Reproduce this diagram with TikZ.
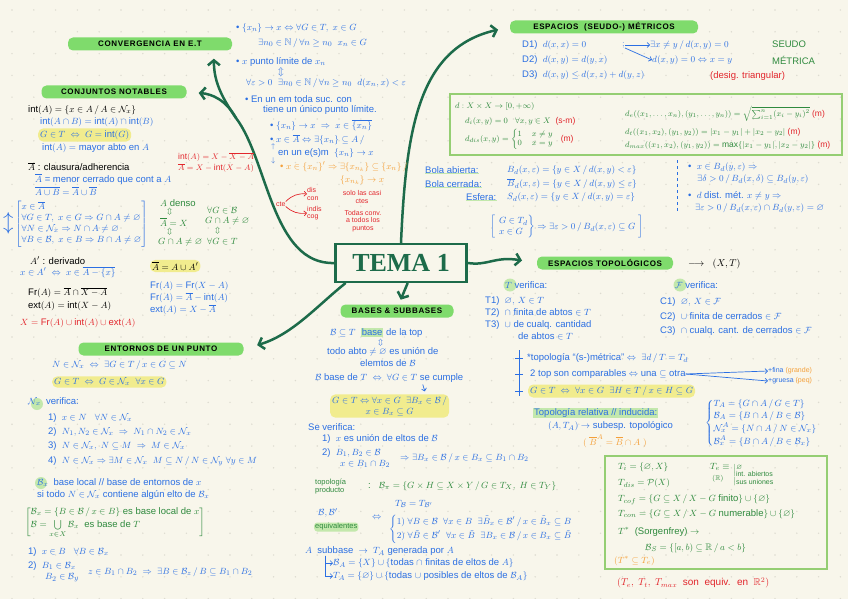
\documentclass[tikz,border=0pt]{standalone}
\usepackage{amsmath}
\usepackage{amssymb}
\usepackage{tikz}
\usepackage{fontspec}
\setmainfont{Liberation Sans}
\newfontfamily\temafont{Liberation Serif}
\usetikzlibrary{arrows.meta}
\definecolor{bgc}{HTML}{F8F6EB}
\definecolor{dotc}{HTML}{DDDBD0}
\definecolor{dkgreen}{HTML}{1D6B4A}
\definecolor{tgreen}{HTML}{7FDB6C}
\definecolor{lgreen}{HTML}{C3E8AC}
\definecolor{boxg}{HTML}{95CE73}
\definecolor{bblue}{HTML}{2B6FE3}
\definecolor{gtext}{HTML}{2F8A3E}
\definecolor{rred}{HTML}{E2262C}
\definecolor{orng}{HTML}{F4A03A}
\definecolor{hlyel}{HTML}{F1EC8E}
\newcommand{\hlg}[1]{{\setlength{\fboxsep}{1pt}\colorbox{lgreen}{#1}}}
\newcommand{\cB}{\mathcal{B}}
\newcommand{\cN}{\mathcal{N}}
\newcommand{\vac}{\varnothing}
\newcommand{\intr}{\mathrm{int}}
\newcommand{\Frt}{\mathrm{Fr}}
\newcommand{\extr}{\mathrm{ext}}

\begin{document}
\begin{tikzpicture}[x=1pt, y=-1pt,
  txt/.style={anchor=west, inner sep=0pt, font=\fontsize{9.5}{11}\selectfont},
  bt/.style={txt, text=bblue},
  gt/.style={txt, text=gtext},
  rt/.style={txt, text=rred},
  ot/.style={txt, text=orng},
  kt/.style={txt, text=black},
  small/.style={font=\fontsize{7}{7.5}\selectfont},
  boxt/.style={font=\fontsize{8.5}{10}\selectfont},
  hl/.style={fill=hlyel, rounded corners=5pt, inner sep=2pt},
  ttl/.style={fill=tgreen, rounded corners=5pt, inner sep=2pt, minimum height=13pt, font=\bfseries\fontsize{8}{9}\selectfont\addfontfeature{LetterSpace=8}},
  mainline/.style={draw=dkgreen, line width=2.5pt, line cap=round},
  mainarrow/.style={mainline, -{Straight Barb[length=5pt,width=12pt]}},
  bluearrow/.style={draw=bblue, line width=0.7pt, -{Straight Barb[length=2.5pt,width=5pt]}},
  redarrow/.style={draw=rred, line width=0.7pt, -{Straight Barb[length=2.5pt,width=5pt]}}]
  \fill[bgc] (0,0) rectangle (848,599);
  \useasboundingbox (0,0) rectangle (848,599);
  \foreach \i in {0,...,38} \foreach \j in {0,...,27} \fill[dotc] (12+21.8*\i, 10+21.8*\j) circle (0.8pt);
  \fill[lgreen] (37,404) circle (6pt);
  \fill[lgreen] (41,483) circle (6pt);
  \fill[lgreen] (510,285) circle (6.5pt);
  \fill[lgreen] (680,285) circle (6.5pt);

  \node[draw=dkgreen, line width=2.5pt, fill=bgc, minimum width=131pt, minimum height=38pt, text=dkgreen, font=\temafont\bfseries\fontsize{26}{28}\selectfont] (tema) at (401,263) {TEMA 1};
  \node[ttl, minimum width=164pt] (conv) at (150,44) {CONVERGENCIA EN E.T};
  \node[ttl, minimum width=145pt] (conj) at (114,92) {CONJUNTOS NOTABLES};
  \node[ttl, minimum width=188pt] (met) at (604,27) {ESPACIOS \ (SEUDO-) MÉTRICOS};
  \node[ttl, minimum width=136pt] (top) at (605,263) {ESPACIOS TOPOLÓGICOS};
  \node[ttl, minimum width=113pt] (bas) at (397,311) {BASES \& SUBBASES};
  \node[ttl, minimum width=165pt] (ent) at (161,349) {ENTORNOS DE UN PUNTO};

  \coordinate (split) at (236,118);
  \draw[mainline] (tema.west) .. controls (272,265) and (268,160) .. (split);
  \draw[mainarrow, shorten >=8pt] (split) .. controls (220,95) and (214,80) .. (conv.-6);
  \draw[mainarrow, shorten >=12pt] (split) .. controls (226,100) and (212,94) .. (conj.east);
  \draw[mainarrow, shorten >=14pt] (tema.-160) .. controls (318,305) and (292,335) .. (ent.east);
  \draw[mainarrow, shorten >=12pt] (tema.north) .. controls (406,130) and (418,48) .. (met.west);
  \draw[mainarrow, shorten >=15pt] (tema.east) .. controls (488,266) and (495,256) .. (top.west);
  \draw[mainarrow, shorten >=5pt] (tema.-72) -- (bas.75);

  \node[bt] (cv1) at (236,28) {• $\{x_n\}\to x \Leftrightarrow \forall G\in T,\ x\in G$};
  \node[bt] (cv2) at (258,43) {$\exists n_0\in\mathbb{N}\,/\,\forall n\geq n_0\ \ x_n\in G$};
  \node[bt] (cv3) at (236,62) {• $x$ punto límite de $x_n$};
  \node[bt] (cv4) at (278,72) {$\Updownarrow$};
  \node[bt] (cv5) at (246,83) {$\forall\varepsilon>0\ \ \exists n_0\in\mathbb{N}\,/\,\forall n\geq n_0\ \ d(x_n,x)<\varepsilon$};
  \node[bt] (cv6) at (245,99) {• En un em toda suc. con};
  \node[bt] (cv7) at (263,110) {tiene un único punto límite.};
  \node[bt] (cv8) at (270,125) {• $\{x_n\}\to x\ \Rightarrow\ x\in\overline{\{x_n\}}$};
  \node[bt] (cv9) at (270,140) {• $x\in\overline{A}\Leftrightarrow\exists\{x_n\}\subseteq A\,/$};
  \node[bt, small] (cv10) at (271,147) {$\uparrow$};
  \node[bt] (cv11) at (278,153) {en un e(s)m \ $\{x_n\}\to x$};
  \node[bt, small] (cv12) at (271,161) {$\downarrow$};
  \node[ot] (cv13) at (280,167) {• $x\in\{x_n\}'\Rightarrow\exists\{x_{n_k}\}\subseteq\{x_n\}\,/$};
  \node[ot] (cv14) at (340,180) {$\{x_{n_k}\}\to x$};

  \node[rt, small] (cte) at (276,204) {cte};
  \node[rt, small, align=left] (dis) at (307,194) {dis\\con};
  \node[rt, small, align=left] (indis) at (307,213) {indis\\cog};
  \node[rt, small, align=center, anchor=center] (solo) at (362,197) {solo las casi\\ctes};
  \node[rt, small, align=center, anchor=center] (todas) at (363,221) {Todas conv.\\a todos los\\puntos};
  \draw[redarrow] (cte.north east) to[bend left=25] (dis.west);
  \draw[redarrow] (cte.south east) to[bend right=25] (indis.west);

  \node[kt] (cn1) at (28,110) {$\intr(A)=\{x\in A\,/\,A\in\cN_x\}$};
  \node[bt] (cn2) at (40,122) {$\intr(A\cap B)=\intr(A)\cap\intr(B)$};
  \node[bt, hl] (cn3) at (38,135) {$G\in T\ \Leftrightarrow\ G=\intr(G)$};
  \node[bt] (cn4) at (42,148) {$\intr(A)=$ mayor abto en $A$};
  \node[rt, boxt] (cn5) at (178,157) {$\intr(A)=X-\overline{X-A}$};
  \node[rt, boxt] (cn6) at (178,168) {$\overline{A}=X-\intr(X-A)$};
  \node[kt] (cn7) at (28,167) {$\overline{A}$ : clausura/adherencia};
  \node[bt] (cn8) at (35,179) {$\overline{A}$ = menor cerrado que cont a $A$};
  \node[bt] (cn9) at (35,191) {$\overline{A\cup B}=\overline{A}\cup\overline{B}$};
  \node[bt] (cn10) at (15,224) {$\left[\begin{array}{@{}l@{}} x\in\overline{A}\\ \forall G\in T,\ x\in G\Rightarrow G\cap A\neq\vac\\ \forall N\in\cN_x\Rightarrow N\cap A\neq\vac\\ \forall B\in\cB,\ x\in B\Rightarrow B\cap A\neq\vac\end{array}\right]$};
  \node[bt, font=\fontsize{20}{20}\selectfont] (cn11) at (3,223) {$\updownarrow$};

  \node[gt] (dn1) at (160,203) {$A$ denso};
  \node[gt, small] (dn2) at (167,212) {$\Updownarrow$};
  \node[gt] (dn3) at (160,222) {$\overline{A}=X$};
  \node[gt, small] (dn4) at (167,232) {$\Updownarrow$};
  \node[gt] (dn5) at (158,242) {$G\cap A\neq\vac$};
  \node[gt] (dn6) at (207,211) {$\forall G\in\cB$};
  \node[gt] (dn7) at (205,221) {$G\cap A\neq\vac$};
  \node[gt, small] (dn8) at (215,231) {$\Updownarrow$};
  \node[gt] (dn9) at (207,242) {$\forall G\in T$};

  \node[kt] (dv1) at (30,261) {$A'$ : derivado};
  \node[bt] (dv2) at (20,272) {$x\in A'\ \Leftrightarrow\ x\in\overline{A-\{x\}}$};
  \node[kt, hl] (dv3) at (150,266) {$\overline{A}=A\cup A'$};
  \node[kt] (fr1) at (28,293) {$\Frt(A)=\overline{A}\cap\overline{X-A}$};
  \node[kt] (fr2) at (28,306) {$\extr(A)=\intr(X-A)$};
  \node[rt] (fr3) at (20,323) {$X=\Frt(A)\cup\intr(A)\cup\extr(A)$};
  \node[bt] (fr4) at (150,286) {$\Frt(A)=\Frt(X-A)$};
  \node[bt] (fr5) at (150,298) {$\Frt(A)=\overline{A}-\intr(A)$};
  \node[bt] (fr6) at (150,310) {$\extr(A)=X-\overline{A}$};

  \node[bt] (en1) at (52,365) {$N\in\cN_x\ \Leftrightarrow\ \exists G\in T\,/\,x\in G\subseteq N$};
  \node[bt, hl] (en2) at (52,382) {$G\in T\ \Leftrightarrow\ G\in\cN_x\ \ \forall x\in G$};
  \node[bt] (en3) at (28,402) {$\cN_x$ \ verifica:};
  \node[bt] (en4) at (48,418) {1)\ \ $x\in N\ \ \ \forall N\in\cN_x$};
  \node[bt] (en5) at (48,432) {2)\ \ $N_1,N_2\in\cN_x\ \Rightarrow\ N_1\cap N_2\in\cN_x$};
  \node[bt] (en6) at (48,446) {3)\ \ $N\in\cN_x,\ N\subseteq M\ \Rightarrow\ M\in\cN_x$};
  \node[bt] (en7) at (48,461) {4)\ \ $N\in\cN_x\Rightarrow\exists M\in\cN_x\ \ M\subseteq N\,/\,N\in\cN_y\ \forall y\in M$};
  \node[bt] (bl1) at (37,483) {$\cB_x$ \ base local // base de entornos de $x$};
  \node[bt] (bl2) at (37,495) {si todo $N\in\cN_x$ contiene algún elto de $\cB_x$};
  \node[gt] (bl3) at (25,522) {$\left[\begin{array}{@{}l@{}} \cB_x=\{B\in\cB\,/\,x\in B\}\text{ es base local de }x\\[2pt] \cB=\bigcup\limits_{x\in X}\cB_x\ \text{ es base de }T\end{array}\right]$};
  \node[bt] (bl4) at (28,552) {1)\ \ $x\in B\ \ \ \forall B\in\cB_x$};
  \node[bt] (bl5) at (28,566) {2)\ \ $B_1\in\cB_x$};
  \node[bt] (bl6) at (45,578) {$B_2\in\cB_y$};
  \node[bt] (bl7) at (88,572) {$z\in B_1\cap B_2\ \Rightarrow\ \exists B\in\cB_z\,/\,B\subseteq B_1\cap B_2$};

  \node[bt] (bs1) at (330,333) {$\cB\subseteq T$ \ \hlg{base} de la top};
  \node[bt, small] (bs2) at (378,343) {$\Updownarrow$};
  \node[bt] (bs3) at (327,352) {todo abto $\neq\vac$ es unión de};
  \node[bt] (bs4) at (360,363) {elemtos de $\cB$};
  \node[bt] (bs5) at (315,378) {$\cB$ base de $T\ \Leftrightarrow\ \forall G\in T$ se cumple};
  \node[bt, hl, align=center] (bs6) at (330,406) {$G\in T\Leftrightarrow\forall x\in G\ \ \exists B_x\in\cB\,/$\\$x\in B_x\subseteq G$};
  \draw[bluearrow, shorten <=2pt, shorten >=3pt] (bs5.-8) -- (bs6.18);
  \node[bt] (bs7) at (308,427) {Se verifica:};
  \node[bt] (bs8) at (322,439) {1)\ \ $x$ es unión de eltos de $\cB$};
  \node[bt] (bs9) at (322,453) {2)\ \ $B_1,B_2\in\cB$};
  \node[bt] (bs10) at (340,464) {$x\in B_1\cap B_2$};
  \node[bt] (bs11) at (400,458) {$\Rightarrow\exists B_x\in\cB\,/\,x\in B_x\subseteq B_1\cap B_2$};
  \node[gt, align=left, font=\fontsize{7.5}{8}\selectfont] (tp1) at (315,487) {topología\\producto};
  \node[gt] (tp2) at (368,486) {:\ \ \ $\cB_\pi=\{G\times H\subseteq X\times Y\,/\,G\in T_X,\ H\in T_Y\}$};
  \node[bt] (eq1) at (395,504) {$T_{\cB}=T_{\cB'}$};
  \node[bt] (eq2) at (318,513) {$\cB,\cB'$};
  \node[gt, fill=lgreen, rounded corners=3pt, inner sep=1pt, font=\fontsize{7.5}{8}\selectfont] (eq3) at (314,527) {equivalentes};
  \node[bt] (eq4) at (372,518) {$\Leftrightarrow$};
  \node[bt] (eq5) at (389,529) {$\left\{\begin{array}{@{}l@{}} 1)\ \forall B\in\cB\ \ \forall x\in B\ \ \exists\tilde{B}_x\in\cB'\,/\,x\in\tilde{B}_x\subseteq B\\[3pt] 2)\ \forall\tilde{B}\in\cB'\ \ \forall x\in\tilde{B}\ \ \exists B_x\in\cB\,/\,x\in B_x\subseteq\tilde{B}\end{array}\right.$};
  \node[bt] (sb1) at (305,551) {$A$ \ subbase $\ \to\ T_A$ generada por $A$};
  \node[bt] (sb2) at (333,563) {$\cB_A=\{X\}\cup\{$todas $\cap$ finitas de eltos de $A\}$};
  \node[bt] (sb3) at (333,576) {$T_A=\{\vac\}\cup\{$todas $\cup$ posibles de eltos de $\cB_A\}$};
  \draw[bluearrow] ([xshift=20pt]sb1.south west) |- (sb2.west);
  \draw[bluearrow] ([xshift=20pt]sb1.south west) |- (sb3.west);

  \node[bt] (m1) at (522,45) {D1)\ \ $d(x,x)=0$};
  \node[bt] (m1s) at (622,45) {$;$};
  \node[bt] (m2) at (522,60) {D2)\ \ $d(x,y)=d(y,x)$};
  \node[bt] (m3) at (522,75) {D3)\ \ $d(x,y)\leq d(x,z)+d(y,z)$};
  \node[rt] (m3r) at (710,76) {(desig. triangular)};
  \node[bt] (sd1) at (650,45) {$\exists x\neq y\,/\,d(x,y)=0$};
  \node[gt] (sd2) at (772,44) {SEUDO};
  \node[bt] (mt1) at (652,60) {$d(x,y)=0\Leftrightarrow x=y$};
  \node[gt] (mt2) at (772,60) {MÉTRICA};
  \draw[bluearrow] (m1s.east) -- (sd1.west);
  \draw[bluearrow] (m1s.south east) -- (mt1.west);

  \draw[boxg, line width=1.3pt] (450,94) rectangle (842,155);
  \node[gt, boxt] (d1) at (455,107) {$d: X\times X\to[0,+\infty)$};
  \node[gt, boxt] (d2) at (465,121) {$d_i(x,y)=0\ \ \ \forall x,y\in X$\ \ \textcolor{rred}{(s-m)}};
  \node[gt, boxt] (d3) at (465,139) {$d_{dis}(x,y)=\left\{\begin{array}{@{}ll@{}}1&x\neq y\\0&x=y\end{array}\right.$\ \ \ \textcolor{rred}{(m)}};
  \node[gt, boxt] (d4) at (625,114) {$d_e((x_1,\dots,x_n),(y_1,\dots,y_n))=\sqrt{\textstyle\sum_{i=1}^n(x_i-y_i)^2}$\ \textcolor{rred}{(m)}};
  \node[gt, boxt] (d5) at (625,132) {$d_t((x_1,x_2),(y_1,y_2))=|x_1-y_1|+|x_2-y_2|$\ \textcolor{rred}{(m)}};
  \node[gt, boxt] (d6) at (625,145) {$d_{max}((x_1,x_2),(y_1,y_2))=\max\{|x_1-y_1|,|x_2-y_2|\}$\ \textcolor{rred}{(m)}};

  \node[bt] (ba) at (425,170) {Bola abierta:};
  \node[bt] (bc) at (425,184) {Bola cerrada:};
  \node[bt] (be) at (466,197) {Esfera:};
  \draw[lgreen, line width=1.5pt] (ba.south west) -- (ba.south east);
  \draw[lgreen, line width=1.5pt] (bc.south west) -- (bc.south east);
  \draw[lgreen, line width=1.5pt] (be.south west) -- (be.south east);
  \node[bt] (ba2) at (507,170) {$B_d(x,\varepsilon)=\{y\in X\,/\,d(x,y)<\varepsilon\}$};
  \node[bt] (bc2) at (507,184) {$\overline{B}_d(x,\varepsilon)=\{y\in X\,/\,d(x,y)\leq\varepsilon\}$};
  \node[bt] (be2) at (507,197) {$S_d(x,\varepsilon)=\{y\in X\,/\,d(x,y)=\varepsilon\}$};
  \node[bt] (gtd) at (490,227) {$\left[\ \left.\begin{array}{@{}l@{}}G\in T_d\\x\in G\end{array}\right\}\Rightarrow\exists\varepsilon>0\,/\,B_d(x,\varepsilon)\subseteq G\ \right]$};
  \draw[bblue, dashed, line width=0.7pt] (677,160) -- (677,212);
  \node[bt] (bp1) at (688,167) {•\ \ $x\in B_d(y,\varepsilon)\Rightarrow$};
  \node[bt] (bp2) at (697,179) {$\exists\delta>0\,/\,B_d(x,\delta)\subseteq B_d(y,\varepsilon)$};
  \node[bt] (bp3) at (688,196) {•\ \ $d$ dist. mét. $x\neq y\Rightarrow$};
  \node[bt] (bp4) at (695,208) {$\exists\varepsilon>0\,/\,B_d(x,\varepsilon)\cap B_d(y,\varepsilon)=\vac$};

  \node[kt, font=\fontsize{10}{11}\selectfont] (xt) at (688,264) {$\longrightarrow\ \ (X,T)$};
  \node[bt] (tv) at (505,285) {$T$ verifica:};
  \node[bt] (t1) at (485,301) {T1)\ \ $\vac,\,X\in T$};
  \node[bt] (t2) at (485,313) {T2)\ \ $\cap$ finita de abtos $\in T$};
  \node[bt] (t3) at (485,325) {T3)\ \ $\cup$ de cualq. cantidad};
  \node[bt] (t3b) at (518,336) {de abtos $\in T$};
  \node[bt] (fv) at (675,285) {$\mathcal{F}$ verifica:};
  \node[bt] (c1) at (660,302) {C1)\ \ $\vac,\,X\in\mathcal{F}$};
  \node[bt] (c2) at (660,317) {C2)\ \ $\cup$ finita de cerrados $\in\mathcal{F}$};
  \node[bt] (c3) at (660,331) {C3)\ \ $\cap$ cualq. cant. de cerrados $\in\mathcal{F}$};
  \draw[bblue, line width=0.7pt] (519,350) -- (519,396);
  \foreach \y in {358,374,391} \draw[bblue, line width=0.7pt] (515,\y) -- (523,\y);
  \node[bt] (tm) at (527,358) {*topología ``(s-)métrica'' $\Leftrightarrow\ \exists d\,/\,T=T_d$};
  \node[bt] (tc) at (530,374) {2 top son comparables $\Leftrightarrow$ una $\subseteq$ otra};
  \node[bt, small] (tf) at (768,371) {+fina \textcolor{orng}{(grande)}};
  \node[bt, small] (tg) at (768,381) {+gruesa \textcolor{orng}{(peq)}};
  \draw[bluearrow] (tc.east) -- (tf.west);
  \draw[bluearrow] (tc.east) -- (tg.west);
  \node[bt, hl] (th) at (528,391) {$G\in T\ \Leftrightarrow\ \forall x\in G\ \ \exists H\in T\,/\,x\in H\subseteq G$};
  \node[bt] (tr1) at (533,413) {\hlg{Topología relativa // inducida:}};
  \node[bt] (tr2) at (548,426) {$(A,T_A)\to$ subesp. topológico};
  \node[ot] (tr3) at (583,441) {$(\ \overline{B}^A=\overline{B}\cap A\ )$};
  \node[bt] (tr4) at (705,423) {$\left\{\begin{array}{@{}l@{}}T_A=\{G\cap A\,/\,G\in T\}\\[1pt] \cB_A=\{B\cap A\,/\,B\in\cB\}\\[1pt] \cN_x^A=\{N\cap A\,/\,N\in\cN_x\}\\[1pt] \cB_x^A=\{B\cap A\,/\,B\in\cB_x\}\end{array}\right.$};

  \draw[boxg, line width=1.3pt] (605,456) rectangle (827,569);
  \node[gt] (k1) at (618,467) {$T_i=\{\vac,X\}$};
  \node[gt] (k2) at (618,483) {$T_{dis}=\mathcal{P}(X)$};
  \node[gt] (k3) at (710,467) {$T_e\equiv$};
  \node[gt, small] (k4) at (712,479) {$(\mathbb{R})$};
  \node[gt, small] (k5) at (733,475) {$\left|\begin{array}{@{}l@{}}\vac\\ \text{int. abiertos}\\ \text{sus uniones}\end{array}\right.$};
  \node[gt] (k6) at (618,500) {$T_{cof}=\{G\subseteq X\,/\,X-G$ finito$\}\cup\{\vac\}$};
  \node[gt] (k7) at (618,514) {$T_{con}=\{G\subseteq X\,/\,X-G$ numerable$\}\cup\{\vac\}$};
  \node[gt] (k8) at (618,532) {$T^*$ \ (Sorgenfrey) $\to$};
  \node[gt] (k9) at (645,548) {$\cB_S=\{[a,b)\subseteq\mathbb{R}\,/\,a<b\}$};
  \node[ot] (k10) at (614,561) {$(T^*\subseteq T_e)$};
  \node[rt, font=\fontsize{10}{11}\selectfont] (k11) at (617,583) {$(T_e,\ T_t,\ T_{max}$ \ son \ equiv. \ en \ $\mathbb{R}^2)$};
\end{tikzpicture}
\end{document}
